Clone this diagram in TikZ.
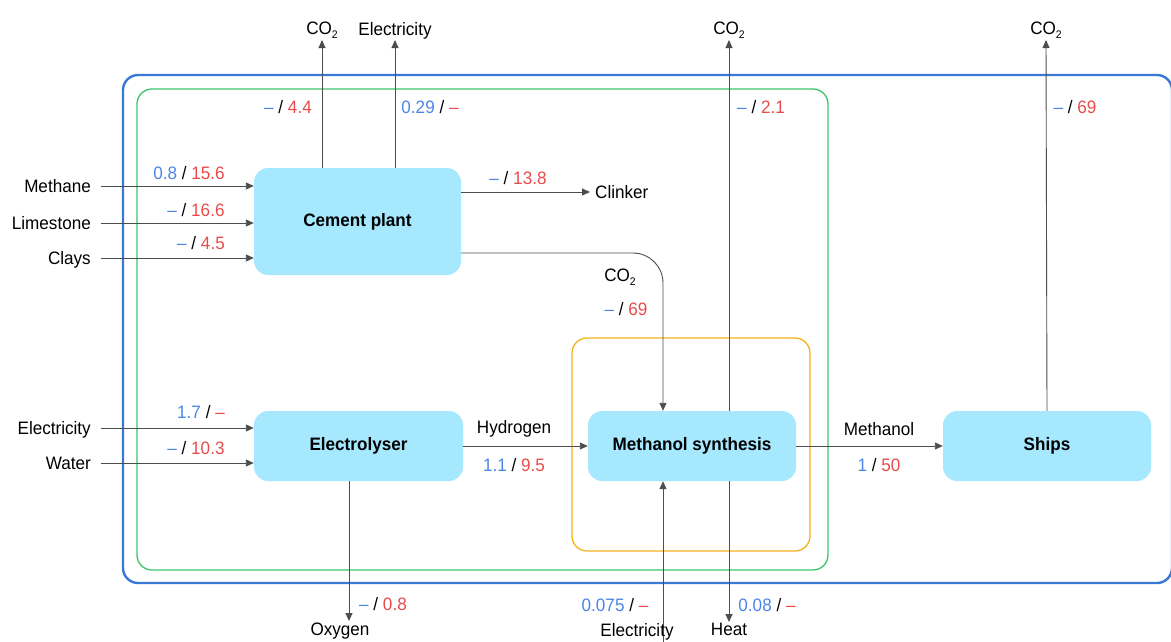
\documentclass[tikz,border=0pt]{standalone}
\usepackage{fontspec}
\setmainfont{Liberation Sans}[FakeStretch=0.95]
\usetikzlibrary{arrows.meta}
\definecolor{boxfill}{HTML}{A6E9FF}
\definecolor{outerblue}{HTML}{3A78D8}
\definecolor{innergreen}{HTML}{3CC46A}
\definecolor{msorange}{HTML}{F5B11C}
\definecolor{vblue}{HTML}{4A86E8}
\definecolor{vred}{HTML}{E84B4B}
\definecolor{linegray}{HTML}{4D4D4D}
\newcommand\cotwo{CO\raisebox{-4pt}{\fontsize{11}{11}\selectfont 2}}
\newcommand\vals[2]{\textcolor{vblue}{#1} / \textcolor{vred}{#2}}
\begin{document}
\begin{tikzpicture}[x=1pt,y=-1pt,
  every node/.style={font=\fontsize{18}{20}\selectfont, inner sep=1pt},
  proc/.style={fill=boxfill, rounded corners=14pt, font=\fontsize{18}{20}\selectfont\bfseries},
  lbl/.style={text height=13pt, text depth=0pt},
  arr/.style={draw=linegray, line width=0.9pt, -{Triangle[length=8pt,width=7pt]}},
  plain/.style={draw=linegray, line width=0.9pt}]
\clip (0,0) rectangle (1171,641);
% frames
\draw[outerblue, line width=2.4pt, rounded corners=15pt] (123,75) rectangle (1172,583);
\draw[innergreen, line width=1.3pt, rounded corners=15pt] (137,89) rectangle (828,570);
\draw[msorange, line width=1.3pt, rounded corners=15pt] (572,338) rectangle (810,551);
% process boxes
\node[proc, minimum width=207pt, minimum height=107pt] (cement) at (357.5,221.5) {Cement plant};
\node[proc, minimum width=209pt, minimum height=70pt] (elec) at (358.5,446) {Electrolyser};
\node[proc, minimum width=208pt, minimum height=70pt] (meth) at (692,446) {Methanol synthesis};
\node[proc, minimum width=208pt, minimum height=70pt] (ships) at (1047,446) {Ships};
% left inputs to cement plant
\node[lbl, anchor=east] (methane) at (92,186) {Methane};
\node[lbl, anchor=east] (limestone) at (92,223) {Limestone};
\node[lbl, anchor=east] (clays) at (92,258) {Clays};
\draw[arr] ([xshift=9pt]methane.east) -- (cement.west |- methane.east);
\draw[arr] ([xshift=9pt]limestone.east) -- (cement.west |- limestone.east);
\draw[arr] ([xshift=9pt]clays.east) -- (cement.west |- clays.east);
\node (v1) at (189,173) {\vals{0.8}{15.6}};
\node (v2) at (196,210) {\vals{–}{16.6}};
\node (v3) at (201,243) {\vals{–}{4.5}};
% top outputs of cement plant
\node[anchor=south] (co2a) at (322,40) {\cotwo};
\node[anchor=south] (elout) at (395,40) {Electricity};
\draw[arr] (cement.north -| co2a.south) -- (co2a.south);
\draw[arr] (cement.north -| elout.south) -- (elout.south);
\node (v4) at (288,107) {\vals{–}{4.4}};
\node (v5) at (430,107) {\vals{0.29}{–}};
% clinker
\node[lbl, anchor=west] (clinker) at (594,192) {Clinker};
\draw[arr] (cement.east |- clinker.west) -- ([xshift=-4pt]clinker.west);
\node (v6) at (518,178) {\vals{–}{13.8}};
% CO2 from cement to methanol synthesis
\coordinate (bend) at (663,253);
\draw[arr, rounded corners=30pt] (cement.east |- bend) -- (bend) -- (meth.north -| bend);
\node (co2mid) at (620,277) {\cotwo};
\node (v7) at (626,309) {\vals{–}{69}};
% CO2 from methanol synthesis
\node[anchor=south] (co2b) at (729,40) {\cotwo};
\draw[arr] (meth.north -| co2b.south) -- (co2b.south);
\node (v8) at (761,107) {\vals{–}{2.1}};
% inputs to electrolyser
\node[lbl, anchor=east] (elin) at (92,428) {Electricity};
\node[lbl, anchor=east] (water) at (92,463) {Water};
\draw[arr] ([xshift=9pt]elin.east) -- (elec.west |- elin.east);
\draw[arr] ([xshift=9pt]water.east) -- (elec.west |- water.east);
\node (v9) at (201,412) {\vals{1.7}{–}};
\node (v10) at (196,448) {\vals{–}{10.3}};
% oxygen
\coordinate (oxyend) at (349,621);
\draw[arr] (elec.south -| oxyend) -- (oxyend);
\node[anchor=north] (oxy) at (340,622) {Oxygen};
\node (v11) at (383,604) {\vals{–}{0.8}};
% hydrogen
\draw[arr] (elec.east) -- (meth.west);
\node (hyd) at (514,429) {Hydrogen};
\node (v12) at (514,465) {\vals{1.1}{9.5}};
% electricity and heat at methanol synthesis
\coordinate (elbot) at (663,646);
\draw[arr] (elbot) -- (meth.south -| elbot);
\node[anchor=north] (elmeth) at (637,622) {Electricity};
\node (v13) at (615,605) {\vals{0.075}{–}};
\coordinate (heatend) at (729,622);
\draw[arr] (meth.south -| heatend) -- (heatend);
\node[anchor=north] (heat) at (729,622) {Heat};
\node (v14) at (767,605) {\vals{0.08}{–}};
% methanol to ships
\draw[arr] (meth.east) -- (ships.west);
\node (methl) at (879,429) {Methanol};
\node (v15) at (879,465) {\vals{1}{50}};
% ships CO2
\node[anchor=south] (co2c) at (1046,40) {\cotwo};
\draw[arr] (ships.north) -- (co2c.south);
\node (v16) at (1075,107) {\vals{–}{69}};
\end{tikzpicture}
\end{document}
